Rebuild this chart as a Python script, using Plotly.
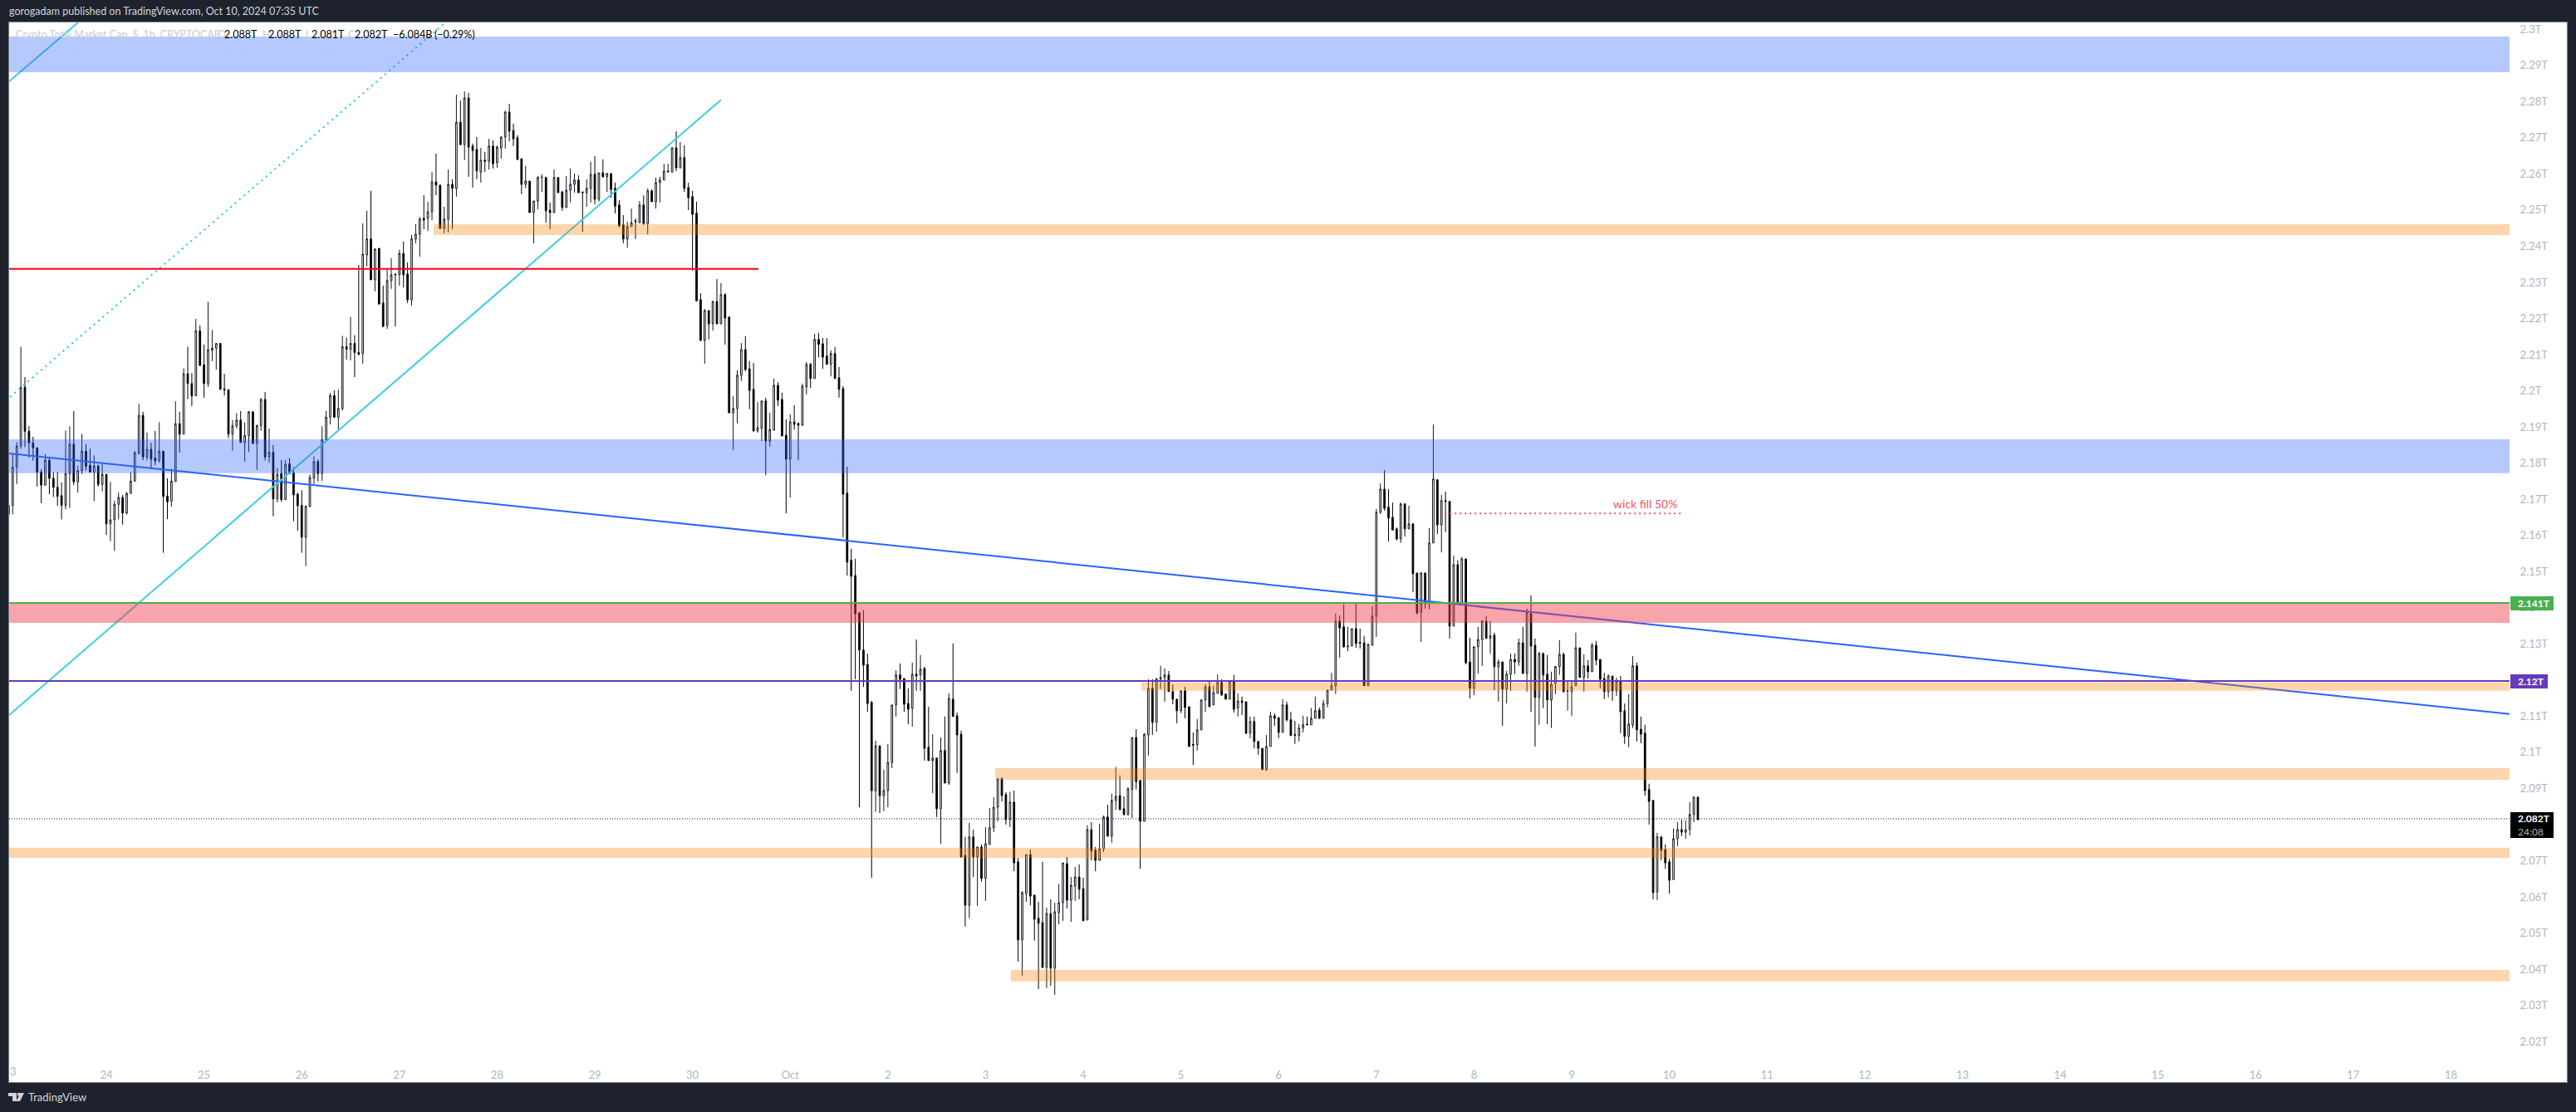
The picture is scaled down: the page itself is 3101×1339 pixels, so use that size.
import pandas as pd
import plotly.graph_objects as go

# Hourly candles, USD billions
opens = [
2165.8,2168.3,2178.9,2184.7,2201.0,2188.8,2185.6,2184.2,2177.5,2173.9,
2180.8,2175.8,2173.3,2171.0,2168.3,2177.1,2185.2,2174.8,2177.9,2183.3,
2179.4,2177.5,2179.2,2174.1,2176.9,2163.2,2164.3,2168.6,2170.5,2166.2,
2171.6,2175.0,2182.7,2193.2,2181.7,2183.8,2181.4,2180.7,2183.3,2170.9,
2169.5,2174.9,2190.9,2188.0,2204.7,2202.0,2198.6,2216.6,2207.2,2202.0,
2211.2,2211.8,2213.1,2200.5,2200.3,2188.0,2190.3,2191.9,2185.7,2187.6,
2194.2,2185.4,2190.4,2197.6,2181.7,2183.0,2170.1,2177.1,2169.9,2179.8,
2177.3,2171.4,2168.3,2159.5,2168.0,2175.8,2180.4,2177.1,2186.5,2192.7,
2198.7,2192.7,2195.1,2212.2,2211.5,2213.1,2210.6,2210.3,2237.6,2242.0,
2230.7,2239.4,2224.3,2218.1,2230.5,2232.3,2232.1,2238.0,2232.3,2225.2,
2242.0,2243.3,2247.7,2247.7,2249.5,2257.8,2256.9,2244.9,2247.5,2257.1,
2256.0,2274.3,2268.1,2281.0,2267.7,2266.8,2260.5,2263.8,2263.5,2267.7,
2263.1,2267.2,2270.2,2277.1,2272.0,2270.0,2264.2,2257.1,2258.0,2249.3,
2252.5,2259.0,2259.0,2250.0,2249.3,2259.0,2255.0,2250.7,2255.5,2257.1,
2258.3,2255.0,2254.8,2256.0,2259.9,2253.0,2260.3,2259.2,2260.1,2256.0,
2251.4,2245.9,2242.0,2245.4,2247.0,2246.5,2251.4,2246.3,2255.3,2252.3,
2257.6,2258.3,2260.5,2260.5,2267.2,2261.7,2264.5,2256.2,2253.7,2249.1,
2225.2,2213.9,2222.2,2218.5,2224.7,2218.5,2226.6,2220.4,2193.9,2195.1,
2204.3,2211.4,2206.1,2200.4,2188.9,2189.6,2197.2,2186.1,2189.1,2201.5,
2197.6,2187.7,2181.1,2191.4,2191.0,2190.5,2201.1,2207.3,2203.4,2214.2,
2213.0,2209.6,2207.3,2210.3,2203.6,2200.6,2171.7,2153.1,2148.9,2138.6,
2128.3,2124.3,2113.8,2089.4,2101.8,2088.0,2089.4,2097.2,2113.1,2121.4,
2120.4,2113.5,2112.2,2121.6,2121.4,2123.2,2101.4,2097.7,2098.4,2084.4,
2100.5,2091.5,2114.7,2110.1,2105.0,2071.5,2057.7,2076.6,2071.0,2073.8,
2065.1,2074.5,2079.1,2084.8,2092.6,2088.3,2081.4,2086.2,2069.7,2048.1,
2060.9,2071.7,2060.5,2054.1,2052.9,2040.5,2055.4,2040.3,2055.7,2058.4,
2069.2,2059.1,2063.0,2065.5,2062.3,2053.6,2078.6,2072.9,2070.1,2073.3,
2082.1,2076.8,2086.7,2088.0,2084.4,2082.8,2089.7,2104.1,2092.2,2080.9,
2104.8,2117.7,2108.3,2120.2,2120.7,2121.4,2116.8,2114.7,2111.5,2117.0,
2112.6,2102.2,2102.1,2106.2,2114.5,2118.1,2113.1,2116.3,2119.3,2116.1,
2114.7,2119.7,2112.2,2114.2,2114.0,2105.3,2108.5,2103.0,2101.1,2095.2,
2101.6,2110.1,2109.6,2105.5,2113.1,2109.0,2104.9,2104.6,2106.7,2107.8,
2107.6,2109.4,2111.7,2109.4,2113.5,2117.2,2118.4,2136.3,2134.7,2129.2,
2129.4,2134.2,2130.4,2130.3,2118.4,2129.6,2137.7,2166.4,2172.8,2167.8,
2165.0,2161.8,2159.0,2168.7,2161.8,2163.2,2149.6,2138.8,2149.6,2141.1,
2157.9,2175.4,2162.9,2169.6,2169.4,2134.9,2151.9,2141.3,2153.5,2125.0,
2117.7,2129.2,2131.2,2136.3,2131.5,2132.4,2123.7,2125.0,2117.5,2121.6,
2125.7,2125.0,2130.3,2121.8,2138.4,2129.6,2115.2,2127.3,2121.6,2114.5,
2119.1,2123.7,2127.1,2116.9,2116.8,2118.4,2128.9,2120.7,2123.9,2122.3,
2129.6,2125.7,2120.4,2116.8,2121.1,2117.0,2119.5,2111.5,2104.4,2107.6,
2123.9,2106.4,2105.3,2089.7,2086.7,2061.4,2076.6,2073.1,2069.7,2064.8,
2076.1,2078.6,2077.9,2078.6,2082.8,2087.6]

highs = [
2174.1,2182.7,2185.8,2212.2,2203.8,2190.2,2187.3,2184.4,2178.3,2182.5,
2181.4,2177.5,2177.5,2174.7,2189.0,2190.2,2194.4,2179.2,2188.1,2185.2,
2184.0,2182.1,2179.6,2179.7,2176.9,2174.8,2169.6,2171.9,2171.2,2172.0,
2177.5,2183.3,2196.4,2194.2,2188.4,2185.6,2188.9,2191.3,2183.3,2175.8,
2178.4,2197.1,2194.2,2206.2,2212.2,2204.9,2219.9,2218.1,2212.8,2224.6,
2216.8,2213.1,2213.1,2204.7,2200.3,2191.9,2193.8,2194.4,2191.3,2194.4,
2194.2,2190.6,2198.0,2199.7,2189.6,2185.0,2178.7,2180.8,2180.8,2181.4,
2178.9,2171.8,2172.5,2168.1,2176.8,2181.9,2181.0,2190.2,2194.5,2199.4,
2200.1,2200.3,2215.2,2214.7,2220.4,2215.4,2234.8,2246.3,2249.8,2255.3,
2239.4,2239.4,2229.1,2233.5,2236.7,2232.3,2239.0,2241.3,2235.5,2243.1,
2246.1,2248.1,2254.1,2252.3,2260.5,2265.6,2256.9,2250.9,2261.2,2258.5,
2281.9,2280.3,2282.8,2282.4,2268.4,2270.2,2267.2,2266.1,2269.7,2269.3,
2267.9,2270.4,2277.5,2279.4,2273.9,2270.7,2264.2,2262.2,2258.0,2252.5,
2259.4,2259.9,2259.2,2252.1,2261.2,2259.0,2255.3,2259.4,2261.5,2260.1,
2259.6,2255.0,2258.5,2263.3,2264.9,2260.3,2264.0,2260.3,2260.1,2257.6,
2252.7,2248.6,2246.8,2250.4,2247.7,2252.5,2254.1,2256.0,2255.7,2259.0,
2259.2,2262.8,2262.8,2267.4,2271.8,2268.8,2267.9,2257.6,2255.3,2252.3,
2227.0,2222.6,2222.2,2224.9,2230.9,2229.8,2227.0,2220.4,2198.5,2205.7,
2213.2,2215.1,2208.2,2207.7,2196.9,2197.2,2198.1,2193.9,2203.4,2202.4,
2199.5,2192.1,2193.5,2196.0,2191.0,2202.0,2208.0,2207.7,2215.8,2216.0,
2214.6,2214.6,2211.2,2212.1,2206.6,2201.3,2179.0,2156.3,2153.5,2138.6,
2139.3,2127.3,2114.2,2103.2,2101.8,2095.2,2102.3,2113.1,2122.7,2124.6,
2120.4,2117.7,2124.8,2131.2,2126.9,2123.7,2112.6,2105.0,2098.4,2104.1,
2109.9,2116.3,2130.1,2111.0,2106.0,2076.6,2080.5,2078.6,2073.8,2074.5,
2079.3,2084.6,2087.6,2092.9,2093.1,2089.0,2089.0,2089.4,2070.8,2061.6,
2071.7,2073.1,2060.5,2058.6,2069.7,2057.0,2059.3,2058.4,2063.5,2069.4,
2071.0,2065.5,2068.3,2069.0,2065.3,2079.8,2080.7,2073.8,2080.2,2082.5,
2085.5,2088.5,2095.9,2093.6,2087.8,2090.3,2104.1,2106.4,2092.2,2105.3,
2120.2,2120.2,2120.4,2123.9,2123.2,2122.5,2118.8,2114.7,2117.0,2118.1,
2112.6,2105.5,2109.2,2114.7,2118.8,2119.7,2118.4,2121.6,2120.2,2116.1,
2119.7,2121.4,2116.3,2115.4,2114.0,2109.9,2109.9,2103.0,2101.1,2104.8,
2111.2,2110.8,2109.6,2114.7,2114.0,2111.2,2108.7,2107.8,2110.1,2109.9,
2112.2,2115.4,2112.4,2114.5,2117.2,2122.0,2138.4,2137.9,2140.9,2134.7,
2134.2,2141.1,2134.2,2132.2,2129.9,2140.4,2167.3,2174.4,2178.1,2172.8,
2169.1,2162.2,2169.1,2168.9,2168.2,2163.2,2149.6,2149.8,2149.6,2162.0,
2190.7,2175.4,2171.2,2172.1,2169.4,2154.4,2153.1,2154.0,2153.5,2131.7,
2129.2,2134.7,2136.5,2137.7,2136.3,2133.1,2125.7,2125.0,2122.5,2127.3,
2127.3,2131.5,2134.7,2139.7,2143.4,2131.5,2127.8,2127.6,2126.9,2122.3,
2123.9,2131.0,2127.6,2119.7,2119.7,2133.1,2128.9,2127.1,2125.5,2130.3,
2130.8,2125.7,2122.0,2121.6,2121.1,2120.7,2121.1,2113.5,2116.1,2126.6,
2124.8,2109.9,2107.6,2091.3,2086.7,2077.7,2076.6,2074.5,2070.6,2078.9,
2080.7,2081.4,2081.2,2086.2,2087.8,2087.6]

lows = [
2165.8,2165.8,2174.2,2183.9,2184.4,2181.5,2180.7,2173.5,2168.9,2173.9,
2171.4,2170.6,2168.2,2164.4,2167.2,2167.6,2173.9,2171.8,2177.0,2177.9,
2177.5,2169.5,2173.5,2172.2,2160.1,2158.4,2155.7,2164.4,2163.0,2165.8,
2171.6,2175.0,2182.3,2180.8,2180.7,2178.4,2179.4,2180.1,2155.2,2164.5,
2168.0,2174.9,2182.9,2188.0,2197.7,2195.8,2198.6,2206.9,2198.1,2201.1,
2208.2,2205.9,2200.4,2198.7,2186.9,2183.4,2189.6,2185.7,2180.4,2183.1,
2185.4,2178.1,2188.9,2180.7,2180.1,2165.3,2169.1,2169.3,2169.9,2177.1,
2163.9,2161.3,2155.2,2151.5,2167.8,2174.1,2174.9,2175.1,2186.5,2190.7,
2192.5,2189.2,2194.5,2208.6,2208.4,2203.8,2209.8,2207.5,2234.4,2230.7,
2227.5,2223.8,2217.6,2217.1,2228.2,2217.8,2229.1,2228.6,2224.3,2223.6,
2240.8,2237.1,2244.7,2244.2,2247.2,2254.1,2244.9,2243.6,2243.8,2244.7,
2253.7,2268.1,2263.8,2259.2,2256.2,2258.5,2257.6,2260.5,2261.2,2261.5,
2261.7,2264.2,2267.0,2269.0,2267.7,2263.8,2254.4,2256.0,2249.3,2240.8,
2250.2,2255.0,2246.5,2244.7,2249.3,2254.8,2249.8,2250.7,2252.1,2254.8,
2254.8,2244.0,2250.9,2252.1,2251.6,2252.3,2259.0,2255.0,2253.4,2249.1,
2245.2,2240.8,2239.6,2245.4,2242.0,2246.5,2245.9,2243.3,2252.3,2250.4,
2252.1,2258.3,2260.5,2260.5,2260.8,2261.5,2255.0,2250.0,2233.2,2224.7,
2213.9,2207.5,2214.2,2216.7,2218.5,2218.5,2212.8,2193.9,2183.6,2191.0,
2202.7,2205.4,2194.9,2188.7,2188.4,2186.1,2176.7,2184.5,2189.1,2195.8,
2187.5,2166.1,2170.5,2189.3,2180.8,2190.3,2199.0,2200.8,2203.4,2209.3,
2206.1,2207.3,2204.0,2203.4,2198.1,2159.5,2148.9,2117.0,2120.2,2084.8,
2118.1,2111.2,2065.3,2083.5,2083.2,2083.7,2084.8,2095.6,2109.9,2117.5,
2111.2,2107.8,2107.1,2117.0,2117.0,2097.7,2097.7,2088.7,2082.1,2074.7,
2091.5,2091.0,2109.9,2094.3,2071.0,2051.8,2054.1,2065.5,2057.5,2064.2,
2058.9,2074.5,2077.9,2080.9,2086.4,2080.0,2079.3,2067.1,2042.1,2038.2,
2058.6,2057.7,2047.9,2034.5,2040.3,2034.8,2035.4,2032.9,2052.4,2053.4,
2056.8,2053.1,2058.9,2059.3,2053.4,2053.6,2070.1,2067.1,2070.1,2072.4,
2076.8,2075.0,2084.1,2084.1,2082.5,2082.5,2081.8,2089.7,2067.8,2080.9,
2099.1,2104.8,2105.7,2117.5,2114.0,2116.8,2113.3,2108.0,2110.8,2109.4,
2101.6,2096.5,2100.5,2106.2,2111.2,2112.6,2113.1,2116.3,2115.8,2114.7,
2114.7,2111.0,2109.9,2110.3,2105.0,2103.9,2101.1,2099.3,2095.2,2094.9,
2101.6,2107.3,2103.9,2105.5,2108.5,2104.6,2102.3,2103.0,2105.5,2107.6,
2107.6,2109.4,2109.2,2109.4,2112.4,2117.2,2116.1,2126.2,2128.9,2128.0,
2129.4,2128.9,2128.7,2118.4,2118.4,2129.6,2131.9,2165.9,2166.8,2158.3,
2161.5,2158.6,2157.9,2159.7,2161.8,2144.3,2138.1,2130.5,2139.7,2139.5,
2157.9,2160.4,2155.3,2160.9,2131.5,2134.9,2140.9,2141.3,2124.3,2114.9,
2115.8,2121.8,2123.9,2131.5,2127.3,2117.2,2114.0,2107.3,2113.5,2117.0,
2121.6,2123.9,2121.8,2116.8,2111.2,2101.6,2107.6,2112.2,2107.8,2106.7,
2116.1,2121.4,2116.5,2111.5,2110.1,2118.4,2120.7,2116.8,2120.4,2122.3,
2124.1,2117.7,2114.7,2115.2,2114.2,2115.6,2105.3,2102.3,2101.4,2106.7,
2103.0,2102.5,2088.0,2080.0,2059.3,2059.1,2070.1,2067.8,2060.9,2064.8,
2074.0,2076.8,2076.1,2077.0,2080.7,2081.2]

closes = [
2168.3,2178.9,2184.7,2200.9,2188.8,2185.6,2184.2,2177.5,2173.9,2180.8,
2175.8,2173.3,2170.8,2168.3,2177.1,2185.2,2174.8,2177.9,2183.3,2179.1,
2177.5,2179.2,2174.1,2176.9,2163.2,2164.3,2168.6,2170.5,2166.2,2171.6,
2175.0,2182.9,2193.2,2181.7,2183.8,2181.1,2180.6,2183.3,2170.8,2169.3,
2175.0,2190.9,2188.0,2204.7,2202.0,2198.6,2216.6,2207.0,2202.0,2211.4,
2211.8,2213.1,2200.4,2200.2,2188.0,2190.3,2191.9,2185.7,2187.6,2194.2,
2185.4,2190.4,2197.6,2181.7,2183.0,2170.1,2176.9,2169.9,2179.6,2177.1,
2171.2,2168.2,2159.5,2168.1,2176.0,2180.4,2177.1,2186.5,2192.7,2198.7,
2192.7,2195.1,2212.2,2211.5,2213.1,2210.6,2210.1,2237.8,2242.0,2230.7,
2239.2,2224.0,2217.8,2230.5,2232.1,2232.1,2238.0,2232.1,2225.2,2242.0,
2243.3,2247.5,2247.2,2249.5,2257.8,2256.9,2244.9,2247.5,2257.1,2256.0,
2274.3,2268.1,2281.0,2267.4,2266.5,2260.8,2263.8,2263.5,2267.7,2262.8,
2267.4,2270.2,2277.1,2271.8,2269.7,2264.0,2257.1,2258.0,2249.3,2252.5,
2259.0,2259.1,2249.8,2249.3,2259.0,2254.8,2250.7,2255.5,2257.1,2258.3,
2254.8,2254.8,2256.0,2259.9,2253.0,2260.3,2259.2,2260.1,2255.7,2251.1,
2245.6,2242.0,2245.4,2246.5,2246.8,2251.4,2246.3,2255.3,2252.3,2257.6,
2258.3,2260.8,2260.8,2267.2,2261.7,2264.5,2256.0,2253.4,2248.8,2224.9,
2213.9,2222.2,2218.5,2224.7,2218.5,2226.6,2220.1,2193.9,2195.1,2204.3,
2211.4,2205.9,2200.1,2188.9,2189.8,2197.2,2186.1,2189.3,2201.5,2197.4,
2187.5,2181.1,2191.4,2190.7,2190.5,2201.3,2207.3,2203.4,2214.2,2212.8,
2209.3,2207.3,2210.3,2203.4,2200.4,2171.4,2152.6,2148.7,2138.3,2128.3,
2124.1,2113.5,2089.4,2101.8,2088.0,2089.4,2097.2,2113.1,2121.4,2120.2,
2113.3,2111.9,2121.6,2121.1,2123.0,2101.1,2097.7,2098.4,2084.4,2100.5,
2091.5,2114.9,2109.9,2104.8,2071.0,2057.7,2076.6,2071.0,2073.8,2065.1,
2074.7,2079.1,2084.8,2092.6,2088.0,2081.4,2086.2,2069.4,2048.1,2061.2,
2071.7,2060.2,2053.8,2052.7,2040.5,2055.4,2040.3,2055.9,2058.4,2069.4,
2059.1,2063.2,2065.5,2062.1,2053.4,2078.6,2072.7,2070.1,2073.3,2082.1,
2076.8,2086.7,2087.8,2084.1,2082.8,2089.9,2104.1,2091.9,2080.9,2105.0,
2117.7,2108.3,2120.4,2120.7,2121.4,2116.8,2114.7,2111.5,2117.0,2112.4,
2101.6,2102.0,2106.2,2114.5,2118.1,2112.6,2116.5,2119.3,2115.8,2114.7,
2119.7,2111.9,2114.2,2113.8,2105.3,2108.5,2103.0,2101.1,2095.2,2101.6,
2110.1,2109.4,2105.5,2113.1,2109.0,2104.6,2104.7,2106.7,2107.6,2107.6,
2109.4,2111.5,2109.4,2113.5,2117.2,2118.4,2136.3,2134.4,2129.2,2129.4,
2134.2,2130.1,2130.2,2118.4,2129.9,2137.7,2166.4,2172.8,2167.5,2164.8,
2161.5,2159.0,2168.7,2161.8,2163.2,2149.4,2138.6,2149.6,2141.1,2157.9,
2175.6,2162.9,2169.6,2169.4,2134.9,2151.9,2141.6,2153.5,2124.8,2117.7,
2129.2,2131.2,2136.3,2131.5,2132.2,2123.7,2125.0,2117.5,2121.6,2125.7,
2125.0,2130.3,2121.8,2138.6,2129.4,2115.2,2127.3,2121.4,2114.5,2118.8,
2123.7,2127.1,2116.8,2117.0,2118.1,2128.9,2120.7,2123.9,2122.3,2129.6,
2125.5,2120.2,2116.8,2121.1,2117.0,2119.7,2111.2,2104.4,2107.8,2123.9,
2106.2,2105.0,2089.4,2086.4,2061.2,2076.6,2072.9,2069.4,2064.6,2076.1,
2078.6,2077.9,2078.6,2082.8,2087.6,2081.4]

# Price axis (2.08T and 2.12T sit behind the price tags and are not shown)
price_ticks = [2020,2030,2040,2050,2060,2070,2090,2100,2110,2130,2140,2150,2160,2170,2180,2190,
               2200,2210,2220,2230,2240,2250,2260,2270,2280,2290,2300]
price_labels = ["2.02T","2.03T","2.04T","2.05T","2.06T","2.07T","2.09T","2.1T","2.11T",
                "2.13T","2.14T","2.15T","2.16T","2.17T","2.18T","2.19T","2.2T","2.21T",
                "2.22T","2.23T","2.24T","2.25T","2.26T","2.27T","2.28T","2.29T","2.3T"]
day_labels = ["24","25","26","27","28","29","30","Oct","2","3","4","5","6","7","8","9","10",
              "11","12","13","14","15","16","17","18"]
day_starts = ["2024-09-24","2024-09-25","2024-09-26","2024-09-27","2024-09-28","2024-09-29","2024-09-30",
              "2024-10-01","2024-10-02","2024-10-03","2024-10-04","2024-10-05","2024-10-06","2024-10-07",
              "2024-10-08","2024-10-09","2024-10-10","2024-10-11","2024-10-12","2024-10-13","2024-10-14",
              "2024-10-15","2024-10-16","2024-10-17","2024-10-18"]

# Drawn levels: (first hour after start, top price, bottom price)
BLUE, PEACH, PINK = "rgba(41,98,255,0.34)", "rgba(245,124,0,0.32)", "rgba(242,54,69,0.46)"
zones = [
    (0.12, 2298.0, 2288.1, BLUE),
    (0.12, 2186.6, 2177.2, BLUE),
    (104.4, 2246.1, 2243.1, PEACH),
    (0.12, 2141.1, 2135.8, PINK),
    (278.3, 2119.3, 2117.0, PEACH),
    (242.4, 2095.6, 2092.4, PEACH),
    (0.12, 2073.6, 2070.8, PEACH),
    (246.2, 2039.8, 2036.6, PEACH),
]
# Drawn lines: hours, prices, colour, dash, width
lines = [
    ([0.12, 614.4], [2182.7, 2110.6], "#2962ff", "solid", 2),
    ([0.12, 175.0], [2110.3, 2280.5], "#3fcde0", "solid", 2),
    ([0.12, 17.06], [2285.6, 2301.9], "#3fcde0", "solid", 2),
    ([0.33, 107.3], [2198.3, 2301.9], "#22c6dc", "2px,5px", 2),
    ([0.12, 184.2], [2233.7, 2233.7], "#ff0018", "solid", 2),
    ([0.12, 614.4], [2141.3, 2141.3], "#4caf50", "solid", 2),
    ([0.12, 614.4], [2119.7, 2119.7], "#673ab7", "solid", 2),
    ([0.12, 614.4], [2081.6, 2081.6], "#131722", "1px,2px", 1),
    ([352.8, 410.9], [2166.1, 2166.1], "#f7525f", "2px,4px", 2),
]

t0 = pd.Timestamp("2024-09-23 00:00")
def hour(h):
    return (t0 + pd.Timedelta(hours=h)).isoformat()
times = [hour(i) for i in range(len(closes))]

W, H = 3101, 1339
L, R, T, B = 11, 3021, 27, 1275
def xp(x): return (x - L) / (R - L)
def yp(y): return (B - y) / (B - T)

fig = go.Figure()
fig.add_trace(go.Candlestick(
    x=times, open=opens, high=highs, low=lows, close=closes,
    increasing=dict(line=dict(color="#131722", width=1), fillcolor="#ffffff"),
    decreasing=dict(line=dict(color="#000000", width=1), fillcolor="#000000"),
    whiskerwidth=0, showlegend=False, hoverinfo="skip"))
for hs, ps, col, dash, w in lines:
    fig.add_trace(go.Scatter(x=[hour(h) for h in hs], y=ps, mode="lines",
                             line=dict(color=col, dash=dash, width=w),
                             showlegend=False, hoverinfo="skip"))

shapes = [dict(type="rect", xref="paper", yref="paper", layer="below",
               x0=xp(10.5), x1=xp(3090.5), y0=yp(1303.5), y1=yp(26.5),
               fillcolor="#ffffff", line=dict(color="#787b86", width=1))]
for h0, p1, p0, col in zones:
    shapes.append(dict(type="rect", xref="x", yref="y", layer="above", x0=hour(h0), x1=hour(614.4),
                       y0=p0, y1=p1, fillcolor=col, line=dict(width=0)))
# price tags
for x1, y0, y1, col in [(3074, 718, 735, "#4caf50"), (3067, 812, 829, "#673ab7"), (3074, 978, 1009, "#000000")]:
    shapes.append(dict(type="rect", xref="paper", yref="paper", layer="above",
                       x0=xp(3022), x1=xp(x1), y0=yp(y1), y1=yp(y0), fillcolor=col, line=dict(width=0)))
# TradingView mark
def path(pts):
    return "M" + " L".join(f"{xp(a):.6f},{yp(b):.6f}" for a, b in pts) + " Z"
LOGO = "#d1d4dc"
for pts in [[(10, 1316), (20, 1316), (20, 1326), (15, 1326), (15, 1320), (10, 1320)],
            [(21, 1316), (24, 1316), (24, 1319.5), (21, 1319.5)],
            [(24, 1326), (19.5, 1326), (24.5, 1316), (29, 1316)]]:
    shapes.append(dict(type="path", xref="paper", yref="paper", layer="above", path=path(pts),
                       fillcolor=LOGO, line=dict(width=0)))

FONT = "Lato"
def note(x, y, text, size=12.5, color="#b2b5be", anchor="left", **kw):
    return dict(xref="paper", yref="paper", x=xp(x), y=yp(y), text=text, showarrow=False,
                xanchor=anchor, yanchor="middle", align="left", borderpad=0,
                font=dict(family=FONT, size=size, color=color), **kw)

G, K = "#c9cbd1", "#000000"
legend_parts = [
    (18, "Crypto Total Market Cap, $, 1h, CRYPTOCAP", G), (261, "O", G), (269, "2.088T", K),
    (315, "H", G), (322, "2.088T", K), (367, "L", G), (374, "2.081T", K),
    (418, "C", G), (426, "2.082T", K), (472, "−6.084B", K), (522, "(−0.29%)", K),
]
annotations = [
    note(10, 14, "gorogadam published on TradingView.com, Oct 10, 2024 07:35 UTC", color="#d1d4dc"),
    note(11, 1290, "3", size=13),
    note(33, 1321, "TradingView", size=13, color="#d1d4dc"),
    note(3030, 726.5, "<b>2.141T</b>", size=12, color="#ffffff"),
    note(3030, 820.5, "<b>2.12T</b>", size=12, color="#ffffff"),
    note(3030, 993.5, '<b>2.082T</b><br><span style="color:#b2b5be">24:08</span>', size=12, color="#ffffff"),
    dict(xref="x", yref="y", x=hour(402), y=2168.7, text="wick fill 50%", showarrow=False,
         font=dict(family=FONT, size=14, color="#f7525f")),
] + [note(x, 42, txt, color=c) for x, txt, c in legend_parts]

fig.update_layout(
    width=W, height=H, autosize=False,
    margin=dict(l=L, r=W - R, t=T, b=H - B, pad=0),
    paper_bgcolor="#1e222d", plot_bgcolor="#ffffff",
    boxgap=0.5, showlegend=False, shapes=shapes, annotations=annotations,
    xaxis=dict(type="date", range=[hour(0.12), hour(614.4)], rangeslider=dict(visible=False),
               tickmode="array", tickvals=day_starts, ticktext=day_labels, showgrid=False, zeroline=False,
               showline=False, ticks="outside", ticklen=7, tickcolor="rgba(0,0,0,0)",
               tickfont=dict(family=FONT, size=13, color="#b2b5be")),
    yaxis=dict(side="right", range=[2015.2, 2301.9], tickmode="array", tickvals=price_ticks,
               ticktext=price_labels, showgrid=False, zeroline=False, showline=False,
               ticks="outside", ticklen=9, tickcolor="rgba(0,0,0,0)",
               tickfont=dict(family=FONT, size=13, color="#b2b5be")),
)
fig.write_html("out.html", config=dict(displayModeBar=False),
               post_script="document.body.style.margin='0';document.body.style.overflow='hidden';document.body.style.background='#1e222d';")
